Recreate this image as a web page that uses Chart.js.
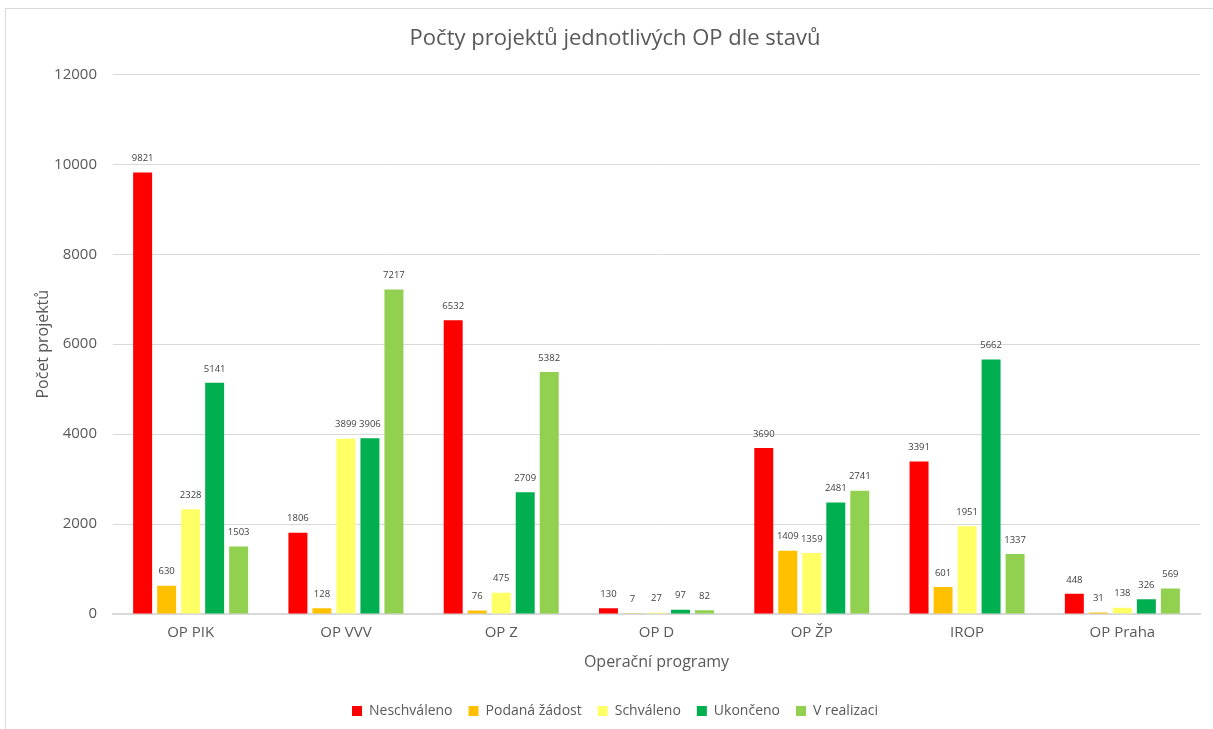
<!DOCTYPE html>
<html>
<head>
<meta charset="utf-8">
<script src="https://cdn.jsdelivr.net/npm/chart.js@4.4.0/dist/chart.umd.min.js"></script>
<style>
html,body{margin:0;padding:0;background:#fff;overflow:hidden;}
#frame{position:absolute;left:5px;top:8px;width:1215px;height:730px;border:1px solid #d9d9d9;box-sizing:border-box;}
#wrap{position:absolute;left:6px;top:9px;width:1207px;height:720px;}
</style>
</head>
<body>
<div id="frame"></div>
<div id="wrap"><canvas id="c" width="1207" height="720"></canvas></div>
<script>
const categories = ["OP PIK","OP VVV","OP Z","OP D","OP ŽP","IROP","OP Praha"];
const neschvaleno = [9821,1806,6532,130,3690,3391,448];
const podanaZadost = [630,128,76,7,1409,601,31];
const schvaleno = [2328,3899,475,27,1359,1951,138];
const ukonceno = [5141,3906,2709,97,2481,5662,326];
const vRealizaci = [1503,7217,5382,82,2741,1337,569];
const yTicks = [0,2000,4000,6000,8000,10000,12000];

const FONT = "'Open Sans', Lato, sans-serif";
const GREY = "#595959";

const dataLabels = {
  id: 'dataLabels',
  afterDatasetsDraw(chart) {
    const ctx = chart.ctx;
    ctx.save();
    ctx.font = "9.5px " + FONT;
    ctx.fillStyle = "#404040";
    ctx.textAlign = "center";
    ctx.textBaseline = "middle";
    chart.data.datasets.forEach((ds, i) => {
      const meta = chart.getDatasetMeta(i);
      meta.data.forEach((bar, j) => {
        ctx.fillText(String(ds.data[j]), bar.x, bar.y - 14);
      });
    });
    ctx.restore();
  }
};

new Chart(document.getElementById('c'), {
  type: 'bar',
  data: {
    labels: categories,
    datasets: [
      {label: 'Neschváleno', data: neschvaleno, backgroundColor: '#FF0000'},
      {label: 'Podaná žádost', data: podanaZadost, backgroundColor: '#FFC000'},
      {label: 'Schváleno', data: schvaleno, backgroundColor: '#FFFF66'},
      {label: 'Ukončeno', data: ukonceno, backgroundColor: '#00B050'},
      {label: 'V realizaci', data: vRealizaci, backgroundColor: '#92D050'}
    ]
  },
  options: {
    responsive: false,
    animation: false,
    datasets: {bar: {categoryPercentage: 0.773, barPercentage: 0.79, borderWidth: 0}},
    layout: {padding: {left: 24, right: 13, top: 0, bottom: 1}},
    plugins: {
      title: {
        display: true,
        text: 'Počty projektů jednotlivých OP dle stavů',
        color: GREY,
        font: {family: FONT, size: 22, weight: 'normal'},
        padding: {top: 17, bottom: 22}
      },
      legend: {
        position: 'bottom',
        labels: {
          color: GREY,
          font: {family: FONT, size: 14},
          boxWidth: 10, boxHeight: 10,
          padding: 16
        }
      },
      tooltip: {enabled: false}
    },
    scales: {
      x: {
        grid: {display: false, drawTicks: false},
        border: {color: '#d9d9d9', width: 2},
        ticks: {color: GREY, font: {family: FONT, size: 15}, padding: 10},
        title: {display: true, text: 'Operační programy', color: GREY, font: {family: FONT, size: 16}, padding: {top: 4, bottom: 16}},
        afterFit(scale) { scale.height = 74; }
      },
      y: {
        min: 0, max: 12000,
        afterBuildTicks(scale) { scale.ticks = yTicks.map(v => ({value: v})); },
        grid: {color: '#d9d9d9', drawTicks: false},
        border: {display: false},
        ticks: {color: GREY, font: {family: FONT, size: 15}, padding: 16, callback: (v) => String(v)},
        title: {display: true, text: 'Počet projektů', color: GREY, font: {family: FONT, size: 16}, padding: {top: 4, bottom: 0}},
        afterFit(scale) { scale.width = 83; }
      }
    }
  },
  plugins: [dataLabels]
});
</script>
</body>
</html>
